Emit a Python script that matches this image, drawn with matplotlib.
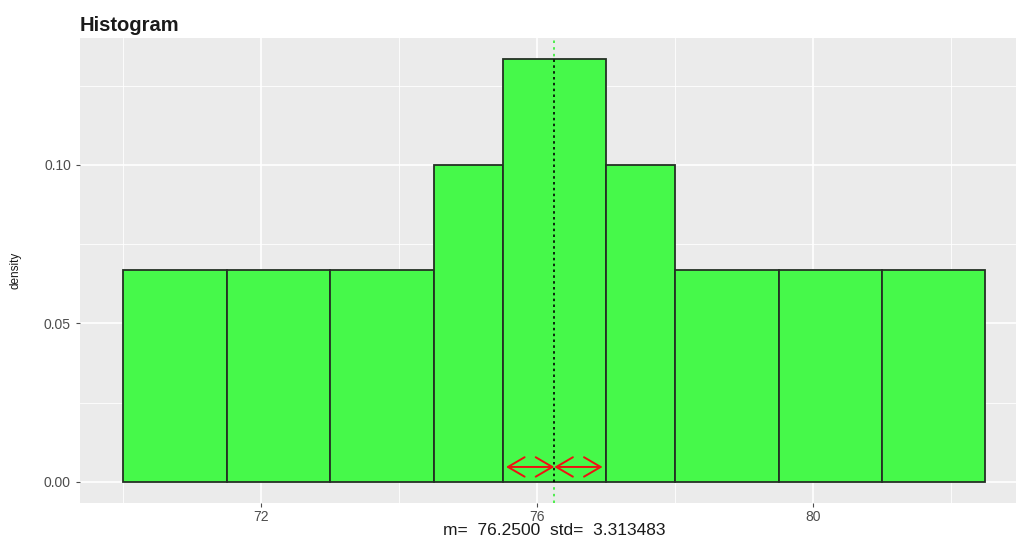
import matplotlib
matplotlib.use("Agg")
import matplotlib.pyplot as plt
import numpy as np

plt.rcParams['font.family'] = ['Liberation Sans', 'DejaVu Sans']

# Data
bin_edges = [70.0, 71.5, 73.0, 74.5, 75.5, 77.0, 78.0, 79.5, 81.0, 82.5]
densities = [1/15, 1/15, 1/15, 0.10, 2/15, 0.10, 1/15, 1/15, 1/15]
mean_val = 76.25
std_val = 3.313483
arrow_half = 0.70
x_major = [72, 76, 80]
x_minor = [70, 74, 78, 82]
y_major = [0.00, 0.05, 0.10]
y_minor = [0.025, 0.075, 0.125]
title = "Histogram"
ylabel = "density"

fig = plt.figure(figsize=(10.16, 5.40), dpi=100)
ax = fig.add_axes([80/1016, 37/540, 948.6/1016, 465/540])
ax.set_facecolor('#EBEBEB')
for s in ax.spines.values():
    s.set_visible(False)

ax.set_xlim(69.375, 83.125)
ax.set_ylim(-0.00667, 0.14)

# grid
for v in x_minor:
    ax.axvline(v, color='white', lw=0.6, zorder=0)
for v in x_major:
    ax.axvline(v, color='white', lw=1.2, zorder=0)
for v in y_minor:
    ax.axhline(v, color='white', lw=0.6, zorder=0)
for v in y_major:
    ax.axhline(v, color='white', lw=1.2, zorder=0)

# mean line (green dotted, full height)
ax.axvline(mean_val, color='#33EE33', lw=1.2, ls=(0, (1.5, 2.5)), zorder=1)

# bars
lefts = np.array(bin_edges[:-1])
widths = np.diff(bin_edges)
ax.bar(lefts, densities, width=widths, align='edge', color='#46F94A',
       edgecolor='#243024', linewidth=1.3, zorder=2)

# black dotted segment inside the bar at the mean
idx = np.searchsorted(bin_edges, mean_val) - 1
ax.plot([mean_val, mean_val], [0, densities[idx]], color='black', lw=1.2,
        ls=(0, (1.5, 2.0)), zorder=3)

# red double arrows
for a, b in [(mean_val - arrow_half, mean_val), (mean_val, mean_val + arrow_half)]:
    ax.annotate('', xy=(b, 0.0047), xytext=(a, 0.0047),
                arrowprops=dict(arrowstyle='<->,head_length=1.2,head_width=0.7',
                                color='#EE1111', lw=1.4, shrinkA=0, shrinkB=0),
                zorder=4)

ax.set_xticks(x_major)
ax.set_xticklabels([str(v) for v in x_major])
ax.set_yticks(y_major)
ax.set_yticklabels(['%.2f' % v for v in y_major])
ax.tick_params(axis='both', colors='#4D4D4D', labelsize=10, length=3, width=0.8)
ax.tick_params(axis='x', pad=2)

ax.set_xlabel("m=  %.4f  std=  %.6f" % (mean_val, std_val), fontsize=12.5,
              color='#1a1a1a', labelpad=-1)
ax.set_ylabel(ylabel, fontsize=8.5, color='#1a1a1a', labelpad=16)
ax.set_title(title, loc='left', fontsize=14.5, fontweight='bold', color='#1a1a1a', pad=5)

fig.savefig('out.png', dpi=100)
